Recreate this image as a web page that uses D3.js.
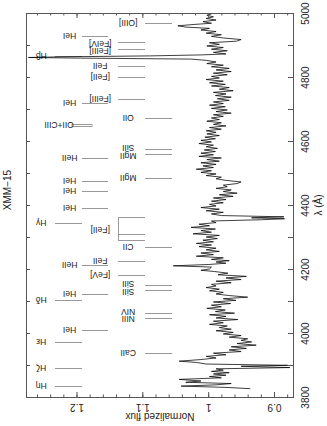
<!DOCTYPE html>
<html><head><meta charset="utf-8">
<script src="https://cdn.jsdelivr.net/npm/d3@7"></script>
<style>body{margin:0;background:#fff}svg{display:block}</style>
</head><body><svg id="c" width="327" height="426"></svg>
<script>
// ---------- data ----------
const wavelength = [
3826,3830,3834,3838,3842,3846,3850,3855,3860,3864,3868,3872,3876,3880,3884,3888,3892,3896,3899,3903,
3908,3912,3917,3922,3927,3932,3937,3942,3947,3952,3957,3962,3967,3972,3977,3982,3987,3992,3997,4002,
4007,4012,4017,4022,4027,4032,4037,4042,4047,4052,4057,4062,4067,4072,4077,4082,4087,4092,4097,4102,
4107,4112,4117,4122,4127,4132,4137,4142,4147,4152,4157,4162,4167,4172,4177,4182,4187,4192,4196,4200,
4206,4210,4214,4218,4222,4226,4230,4235,4240,4245,4250,4255,4260,4265,4270,4275,4280,4285,4290,4295,
4300,4305,4310,4315,4320,4325,4330,4335,4340,4345,4350,4354,4357,4360,4363,4367,4372,4377,4382,4387,
4392,4397,4402,4407,4412,4417,4422,4427,4432,4437,4442,4447,4452,4457,4462,4467,4472,4477,4482,4487,
4492,4497,4502,4507,4512,4517,4522,4527,4532,4537,4542,4547,4552,4557,4562,4567,4572,4577,4582,4587,
4592,4597,4602,4607,4612,4617,4622,4627,4632,4637,4642,4647,4652,4657,4662,4667,4672,4677,4682,4687,
4692,4697,4702,4707,4712,4717,4722,4727,4732,4737,4742,4747,4752,4757,4762,4767,4772,4777,4782,4787,
4792,4797,4802,4807,4812,4817,4822,4827,4832,4837,4842,4847,4852,4856,4859,4861,4863,4866,4869,4872,
4877,4882,4887,4892,4897,4902,4907,4912,4917,4922,4927,4932,4937,4942,4947,4952,4956,4960,4964,4968,
4973,4978,4983,4988,4993,4997];
const flux = [
0.936,0.973,1.041,0.988,0.965,1.034,1.011,1.044,0.980,0.998,0.973,0.992,0.968,0.995,0.977,0.988,0.876,0.950,0.879,1.003,
1.018,1.044,1.011,0.988,1.003,0.973,0.992,0.950,0.968,0.942,0.965,0.927,0.956,0.934,0.950,0.940,0.968,0.950,0.977,0.962,
0.988,0.965,0.983,0.971,0.998,0.977,0.992,0.955,0.988,0.973,0.998,0.960,0.989,0.974,1.002,0.980,0.995,0.966,0.992,0.958,
0.977,0.940,0.968,0.988,0.977,0.998,0.983,1.003,0.988,0.995,0.965,0.988,0.950,0.973,0.942,0.985,0.970,0.990,1.011,0.998,
0.995,1.053,1.000,0.973,0.988,0.968,0.995,0.977,1.018,0.992,1.011,0.983,1.003,0.988,1.014,0.995,1.018,0.992,1.008,0.986,
1.003,0.983,1.023,0.995,1.011,0.989,1.026,0.998,1.014,0.988,0.995,0.919,0.884,0.934,0.885,0.980,0.995,0.977,1.003,0.983,
1.011,0.988,0.998,0.977,0.995,0.973,0.992,0.962,0.983,0.956,0.977,0.965,0.988,0.971,0.977,0.956,0.950,0.973,0.988,0.980,
1.003,0.988,1.011,0.995,1.018,0.992,1.008,0.988,1.011,0.983,1.002,0.980,1.014,0.992,1.011,0.989,1.006,0.986,1.003,0.992,
1.014,0.995,1.011,0.989,1.005,0.983,1.002,0.988,1.003,0.980,0.998,0.973,0.992,0.980,1.002,0.983,0.995,0.977,0.992,0.965,
0.988,0.971,0.995,0.974,0.998,0.977,0.992,0.968,0.986,0.965,0.989,0.973,0.992,0.962,0.983,0.968,0.995,0.974,0.998,0.977,
1.003,0.983,0.995,0.971,0.992,0.965,0.988,0.968,0.995,0.977,1.002,0.988,1.003,1.026,1.194,1.273,1.224,1.087,1.011,0.973,
0.992,0.971,0.995,0.977,1.002,0.983,0.998,0.957,0.950,0.977,0.995,0.980,1.003,0.988,1.011,0.998,1.034,1.046,1.023,0.995,
1.008,0.988,1.003,0.992,1.002,0.995];

const lambdaTicks = [3800,4000,4200,4400,4600,4800,5000];
const lambdaMinorTicks = [3800,3900,4000,4100,4200,4300,4400,4500,4600,4700,4800,4900,5000];
const fluxTicks = [0.9,1,1.1,1.2];
const fluxTickLabels = ["0.9","1","1.1","1.2"];
const fluxMinorTicks = [0.88,0.9,0.92,0.94,0.96,0.98,1,1.02,1.04,1.06,1.08,1.1,1.12,1.14,1.16,1.18,1.2,1.22,1.24,1.26];

// line identifications: label, wavelength, column
const lineLabels = ["Hβ","Hγ","Hδ","Hε","Hζ","Hη",
  "HeI","HeI","HeII","HeI","HeI","HeI","HeII","HeI","HeI",
  "[FeIV]","[FeIII]","FeII","[FeII]","[FeIII]","FeII","[FeV]",
  "[OIII]","OII","SiII","MgII","MgII","CII","SiII","SiII","NIV","NIII","CaII"];
const lineWaves = [4866,4344,4103,3972,3891,3834,
  4928,4719,4547,4475,4444,4391,4212,4122,4009,
  4909,4887,4834,4800,4731,4225,4181,
  4968,4672,4575,4559,4484,4269,4150,4134,4062,4047,3937];
const lineColumns = ["A","A","A","A","A","A",
  "B","B","B","B","B","B","B","B","B",
  "C","C","C","C","C","C","C",
  "D","D","D","D","D","D","D","D","D","D","D"];
const feIIGroupWaves = [4362,4309,4291];
const blendLabel = "OII+CIII";
const blendWaves = [4647,4653];

// ---------- layout ----------
const plot = {left:26, right:293, top:13, bottom:397};
const y = d3.scaleLinear().domain([3800,5000]).range([plot.bottom, plot.top]);
const x = d3.scaleLinear().domain([0.9,1.2]).range([274,76.5]);
// marker columns in flux units: [start, end, label centre]
const cols = {
  A:[1.2327,1.1916,1.2535],
  B:[1.1916,1.1521,1.2105],
  C:[1.1369,1.0959,1.1640],
  D:[1.0959,1.0549,1.1215]
};
const labelDy = {"[FeIV]":1.5,"[FeIII]4887":1.5,"SiII4575":-1,"MgII4559":1.5,"SiII4150":-1.5,"SiII4134":1.5,"NIV":-1,"NIII":1.5};
const blendCol = [1.2068,1.1764,1.2265];

const svg = d3.select("#c");
const font = "'Liberation Sans', Arial, Helvetica, sans-serif";
const frameColor = "#555";
const markColor = "#999";

svg.append("defs").append("clipPath").attr("id","clip").append("rect")
  .attr("x",plot.left).attr("y",plot.top).attr("width",plot.right-plot.left).attr("height",plot.bottom-plot.top);

// markers
const gm = svg.append("g").attr("stroke",markColor).attr("stroke-width",1).attr("fill","none");
lineLabels.forEach((lab,i)=>{
  const c = cols[lineColumns[i]];
  const yy = Math.round(y(lineWaves[i]))+0.5;
  gm.append("line").attr("x1",x(c[0])).attr("x2",x(c[1])).attr("y1",yy).attr("y2",yy);
});
{
  const c = cols.C;
  feIIGroupWaves.forEach(w=>{
    const yy = Math.round(y(w))+0.5;
    gm.append("line").attr("x1",x(c[0])).attr("x2",x(c[1])).attr("y1",yy).attr("y2",yy);
  });
  gm.append("line").attr("x1",Math.round(x(c[0]))+0.5).attr("x2",Math.round(x(c[0]))+0.5)
    .attr("y1",Math.round(y(d3.max(feIIGroupWaves)))+0.5).attr("y2",Math.round(y(d3.min(feIIGroupWaves)))+0.5);
}
gm.append("rect").attr("x",x(blendCol[0])).attr("width",x(blendCol[1])-x(blendCol[0]))
  .attr("y",Math.round(y(blendWaves[1]))+0.5).attr("height",Math.round(y(blendWaves[0]))-Math.round(y(blendWaves[1])));

// labels (upside down)
const gl = svg.append("g").attr("font-family",font).attr("font-size",8.5).attr("fill","#222");
function upsideLabel(txt, xc, yc){
  gl.append("text").attr("transform",`translate(${xc},${yc}) rotate(180)`)
    .attr("text-anchor","middle").attr("dy","0.35em").text(txt);
}
lineLabels.forEach((lab,i)=>{
  const c = cols[lineColumns[i]];
  const key = labelDy[lab+lineWaves[i]]!==undefined ? lab+lineWaves[i] : lab;
  const dy = labelDy[key] || 0;
  upsideLabel(lab, x(c[2]), y(lineWaves[i])+dy);
});
upsideLabel("[FeII]", x(cols.C[2]), y(d3.mean(feIIGroupWaves)));
upsideLabel(blendLabel, x(blendCol[2]), y(d3.mean(blendWaves)));

// spectrum
const pts = wavelength.map((w,i)=>[w,flux[i]]);
svg.append("path").datum(pts).attr("clip-path","url(#clip)")
  .attr("fill","none").attr("stroke","#000").attr("stroke-width",0.75).attr("stroke-linejoin","round")
  .attr("d", d3.line().x(d=>x(d[1])).y(d=>y(d[0])));

// axes
const ga = svg.append("g").attr("font-family",font).attr("font-size",9.5);
function styleAxis(g){ g.select(".domain").remove(); g.selectAll("line").attr("stroke",frameColor); g.selectAll("text").attr("fill","#222"); }
const inFlux = fluxMinorTicks.filter(v=>x(v)>=plot.left && x(v)<=plot.right);
ga.append("g").attr("transform",`translate(0,${plot.bottom})`)
  .call(d3.axisBottom(x).tickValues(inFlux).tickSize(-2.5).tickFormat("")).call(styleAxis);
ga.append("g").attr("transform",`translate(0,${plot.bottom})`)
  .call(d3.axisBottom(x).tickValues(fluxTicks).tickSize(-5).tickFormat((d,i)=>fluxTickLabels[i]))
  .call(styleAxis)
  .call(g=>g.selectAll("text").attr("y",0).attr("dy","0.35em").attr("transform","translate(0,10) rotate(180)"));
ga.append("g").attr("transform",`translate(0,${plot.top})`)
  .call(d3.axisTop(x).tickValues(inFlux).tickSize(-2.5).tickFormat("")).call(styleAxis);
ga.append("g").attr("transform",`translate(0,${plot.top})`)
  .call(d3.axisTop(x).tickValues(fluxTicks).tickSize(-5).tickFormat("")).call(styleAxis);
ga.append("g").attr("transform",`translate(${plot.right},0)`)
  .call(d3.axisRight(y).tickValues(lambdaMinorTicks).tickSize(-5).tickFormat(""))
  .call(styleAxis);
ga.append("g").attr("transform",`translate(${plot.right},0)`)
  .call(d3.axisRight(y).tickValues(lambdaTicks).tickSize(0).tickFormat(d3.format("d")))
  .call(styleAxis)
  .call(g=>g.selectAll("text").attr("x",0).attr("dy","0.35em").attr("text-anchor","middle")
      .attr("transform","translate(12,0) rotate(-90)"));
ga.append("g").attr("transform",`translate(${plot.left},0)`)
  .call(d3.axisLeft(y).tickValues(lambdaMinorTicks).tickSize(-4).tickFormat("")).call(styleAxis);

svg.append("rect").attr("x",plot.left+0.5).attr("y",plot.top+0.5)
  .attr("width",plot.right-plot.left).attr("height",plot.bottom-plot.top)
  .attr("fill","none").attr("stroke",frameColor).attr("stroke-width",1);

// axis titles
svg.append("text").attr("font-family",font).attr("font-size",10).attr("fill","#222")
  .attr("text-anchor","middle").attr("dy","0.35em")
  .attr("transform",`translate(160,416) rotate(180)`).text("Normalized flux");
svg.append("text").attr("font-family",font).attr("font-size",10).attr("fill","#222")
  .attr("text-anchor","middle").attr("dy","0.35em")
  .attr("transform",`translate(318,${y(4400)}) rotate(-90)`).text("λ (Å)");
svg.append("text").attr("font-family",font).attr("font-size",10).attr("fill","#222")
  .attr("text-anchor","middle").attr("dy","0.35em")
  .attr("transform",`translate(7,190) rotate(-90)`).text("XMM−15");
</script></body></html>
